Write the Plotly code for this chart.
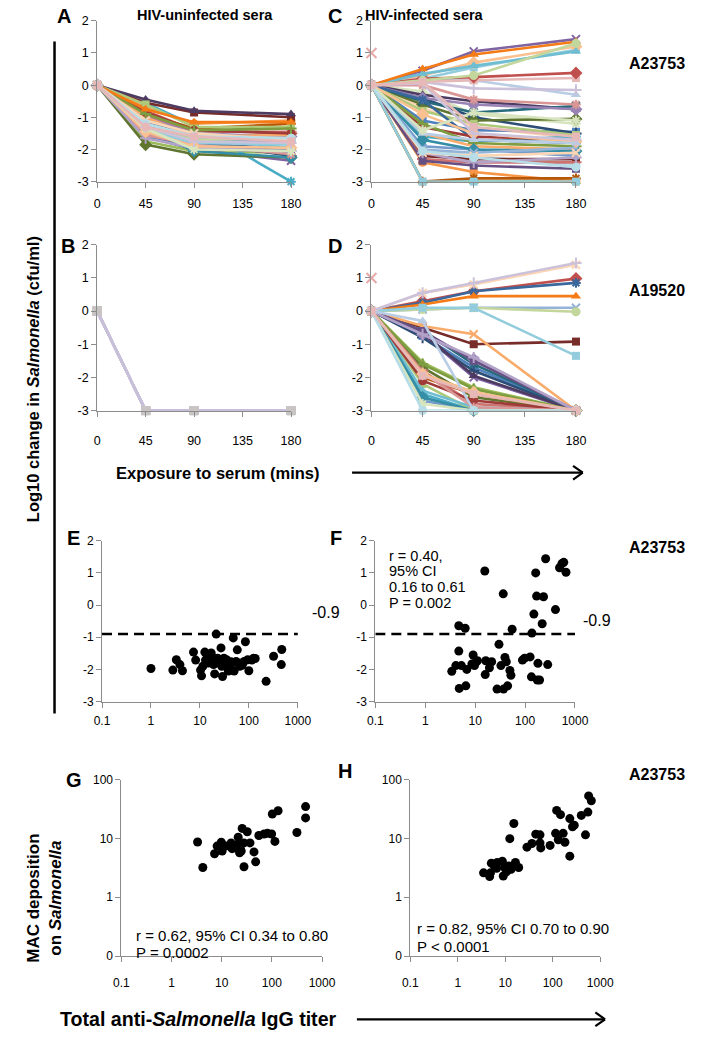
import plotly.graph_objects as go

W, H = 715, 1049
FONT = "Liberation Sans"

# ------------------------------------------------------------------ data
TIMES = [0, 45, 90, 180]
TIME_TICKS = [0, 45, 90, 135, 180]
LOG_CHANGE_TICKS = [2, 1, 0, -1, -2, -3]
TITER_TICKS = [0.1, 1, 10, 100, 1000]
TITER_LABELS = ["0.1", "1", "10", "100", "1000"]
MAC_TICKS = [0.1, 1, 10, 100]
MAC_LABELS = ["0", "1", "10", "100"]
CUTOFF = -0.9

# Panel A: HIV-uninfected sera vs A23753 (log10 change at 45, 90, 180 min; 0 at t=0)
A_T45 = [-1.6, -0.8, -1.75, -1.45, -0.55, -0.7, -1.3, -0.55, -1.85, -0.45, -1.15, -0.9,
         -1.3, -0.95, -0.6, -1.0, -1.25, -1.0, -1.2, -0.85, -0.9, -1.5, -1.4, -0.75,
         -1.1, -1.55, -1.35, -1.65, -1.4, -1.45, -1.2, -1.1, -1.35, -1.2, -1.3, -1.3]
A_T90 = [-2.0, -1.4, -2.05, -2.0, -1.25, -1.2, -1.75, -0.85, -2.15, -0.8, -1.55, -1.35,
         -1.7, -1.45, -1.3, -1.5, -1.65, -1.6, -1.8, -1.4, -1.4, -1.95, -2.05, -1.15,
         -1.5, -1.85, -1.7, -1.95, -1.8, -1.9, -1.6, -1.5, -2.0, -1.6, -1.75, -1.6]
A_T180 = [-2.0, -1.5, -2.1, -2.35, -3.0, -1.1, -2.2, -1.0, -2.25, -0.9, -1.8, -1.2,
          -1.75, -1.45, -1.3, -1.6, -1.95, -1.55, -2.0, -1.5, -1.35, -2.1, -2.25, -1.15,
          -1.7, -2.15, -1.65, -2.05, -1.85, -1.95, -1.65, -1.7, -2.05, -1.65, -1.8, -1.75]

# Panel B: HIV-uninfected sera vs A19520 (all killed by 45 min)
B_T45 = [-3.0, -3.0, -3.0, -3.0, -3.0, -3.0, -3.0, -3.0, -3.0, -3.0, -3.0, -3.0]
B_T90 = [-3.0, -3.0, -3.0, -3.0, -3.0, -3.0, -3.0, -3.0, -3.0, -3.0, -3.0, -3.0]
B_T180 = [-3.0, -3.0, -3.0, -3.0, -3.0, -3.0, -3.0, -3.0, -3.0, -3.0, -3.0, -3.0]

# Panel C: HIV-infected sera vs A23753
C_T45 = [0.2, 0.3, 0.2, -0.7, -0.2, -2.0, 0.1, 0.1, -1.1, 0.2, -3.0, 0.45,
         -1.6, -2.4, -0.4, -2.2, -0.6, -0.3, -0.5, -3.0, -1.9, -2.3, -0.8, -0.4,
         0.35, -1.5, -0.45, -1.3, -1.2, -2.35, -1.7, 0.5, -2.0, 0.0, 0.15, -2.1,
         -3.0, -0.9, -1.5, -2.1, -1.4, -2.05, 0.05, 0.1]
C_T90 = [0.55, 0.7, 0.15, -1.3, -0.9, -2.2, -0.1, 0.15, -1.4, 0.25, -3.0, 1.05,
         -1.75, -2.7, -1.0, -2.3, -1.1, -0.5, -0.85, -2.9, -2.0, -2.4, -1.2, -0.6,
         0.6, -1.9, -1.7, -1.6, -1.8, -2.5, -2.0, 0.95, -2.1, -0.45, 0.3, -2.4,
         -3.0, -1.5, -1.7, -2.2, -0.85, -2.25, -1.5, -1.3]
C_T180 = [1.1, 1.2, -0.3, -1.65, -1.2, -2.5, -0.15, 0.22, -1.45, 0.38, -3.0, 1.43,
          -1.6, -3.0, -1.5, -2.3, -1.05, -0.75, -0.65, -2.9, -2.2, -2.4, -1.55, -0.75,
          1.05, -2.0, -1.8, -1.7, -1.9, -2.6, -2.05, 1.35, -1.95, -0.6, 1.3, -2.25,
          -3.0, -1.75, -1.8, -2.1, -1.1, -2.55, -1.7, -1.6]

# Panel D: HIV-infected sera vs A19520
D_T45 = [-0.75, 0.3, -1.55, -0.7, -2.5, -1.9, -0.8, -0.5, -1.7, -0.65, -0.6, -2.0,
         -2.7, -1.8, -2.2, -0.7, -2.4, -0.45, 0.25, -2.1, -1.6, -0.6, -2.6, 0.2,
         0.05, -1.85, 0.05, -0.7, 0.1, -1.9, -0.3, 0.55, -2.8, -3.0, 0.55, -1.95]
D_T90 = [-1.7, 0.6, -2.3, -2.0, -3.0, -2.45, -1.8, -1.0, -2.6, -1.95, -1.6, -2.5,
         -3.0, -2.8, -3.0, -1.45, -2.9, -0.7, 0.6, -2.7, -2.35, -1.5, -3.0, 0.45,
         0.1, -2.9, 0.1, -1.4, 0.1, -2.45, -3.0, 0.8, -3.0, -3.0, 0.85, -2.5]
D_T180 = [-3.0, 0.98, -3.0, -3.0, -3.0, -3.0, -3.0, -0.92, -3.0, -3.0, -3.0, -3.0,
          -3.0, -3.0, -3.0, -3.0, -3.0, -3.0, 0.85, -3.0, -3.0, -3.0, -3.0, 0.45,
          0.1, -3.0, -0.02, -3.0, -1.35, -3.0, -3.0, 1.4, -3.0, -3.0, 1.45, -3.0]

# isolated point plotted at t=0 in C and D
EXTRA_T = [0]
EXTRA_V = [1.0]

# Panel E: uninfected sera, titer vs log10 change at 180 min (A23753)
E_TITER = [1.0, 2.8, 3.3, 3.9, 4.4, 7.4, 8.2, 10.3, 10.8, 11.5, 12.6, 13.0, 14, 15, 16,
           17, 17, 18, 19, 20, 20, 21.5, 22, 23, 24, 25, 27, 28, 29, 31, 33, 35, 38, 40,
           43, 45, 48, 50, 55, 58, 65, 73, 80, 85, 95, 100, 115, 125, 135, 225, 320, 460, 470]
E_CHANGE = [-1.97, -2.02, -1.70, -1.85, -2.04, -1.46, -1.71, -2.02, -2.20, -1.90, -1.46,
            -1.71, -1.65, -1.80, -1.75, -1.49, -3.01, -1.62, -1.85, -2.14, -1.70, -0.90,
            -1.75, -1.65, -1.80, -1.70, -1.33, -1.90, -2.22, -1.65, -1.85, -1.70, -2.05,
            -2.02, -1.76, -1.80, -1.02, -2.05, -1.75, -1.39, -1.90, -1.87, -1.75, -1.14,
            -1.70, -2.04, -1.71, -1.65, -1.66, -2.37, -1.59, -1.85, -1.38]

# Panel F: infected sera, titer vs log10 change at 180 min (A23753)
F_TITER = [3.4, 4.1, 4.7, 4.7, 4.8, 5.3, 6.3, 6.5, 6.8, 8.6, 9.1, 9.7, 10.3, 11.1, 12.7,
           13.5, 15.6, 16.3, 15.9, 19.3, 21.4, 27.8, 27.4, 30, 32.8, 36.5, 37, 39.5, 42,
           44.7, 49.6, 52, 55, 88.5, 98, 126, 134, 137, 124, 150, 163, 170, 181, 176, 195,
           234, 220, 258, 284, 406, 490, 547, 595, 660]
F_CHANGE = [-2.06, -1.88, -1.43, -0.64, -2.59, -1.88, -0.72, -2.51, -2.0, -1.83, -1.55,
            -1.88, -1.78, -1.73, -3.01, -3.01, 1.06, -1.73, -2.16, -1.95, -1.76, -3.01,
            -2.61, -1.22, -1.88, 0.35, -2.61, -1.63, -1.76, -2.51, -2.03, -2.18, -0.75,
            -1.71, -1.65, -1.61, -2.23, -0.87, -3.01, -0.28, 1.0, 0.28, -1.81, -2.33,
            -2.33, 0.26, -0.58, 1.44, -1.85, -0.14, 1.16, 1.29, 1.33, 1.02]

# Panel G: uninfected sera, titer vs MAC deposition
G_TITER = [3.3, 4.2, 7.2, 8.1, 9.8, 10.2, 11.9, 15.4, 16.1, 17.5, 18.8, 20.3, 21.3, 22.7,
           23.7, 24.5, 25.6, 27.8, 27.8, 32.3, 36.6, 44, 47.5, 55, 70, 82, 99, 102, 115,
           133, 316, 470, 470]
G_MAC = [8.7, 3.2, 5.5, 7.4, 8.6, 6.1, 7.4, 8.4, 6.7, 7.4, 6.9, 7.8, 10.5, 5.7, 6.5, 6.1,
         14.8, 8.4, 3.3, 13.0, 8.4, 5.9, 4.0, 11.2, 11.9, 12.2, 11.9, 26, 8.9, 29.5, 12.6,
         22.3, 34.7]

# Panel H: infected sera, titer vs MAC deposition
H_TITER = [3.5, 4.7, 4.9, 5.1, 5.8, 6.6, 6.8, 8.7, 9.1, 9.7, 10.6, 11.9, 13.3, 12.5, 15.2,
           16.4, 19.2, 28.7, 36.5, 44, 54, 54, 56, 88, 115, 121, 131, 146, 166, 181, 229,
           229, 261, 284, 400, 490, 550, 570, 650]
H_MAC = [2.6, 2.25, 2.6, 3.8, 3.5, 3.1, 3.9, 4.1, 2.3, 3.2, 2.7, 3.4, 3.0, 9.9, 17.9, 3.9,
         3.2, 7.1, 8.2, 11.8, 11.5, 8.4, 6.9, 7.6, 12.2, 29.9, 9.5, 25.3, 12.2, 8.6, 5.0,
         21.7, 15.8, 16.8, 24.6, 11.5, 28, 52.7, 43.6]

# ------------------------------------------------------------------ styles
PALETTE = ['#4F81BD', '#C0504D', '#9BBB59', '#8064A2', '#4BACC6', '#F79646',
           '#2C4D75', '#772C2A', '#5F7530', '#4D3B62', '#276A7C', '#B65708',
           '#729ACA', '#CD7371', '#AFC97A', '#9983B5', '#6FBDD1', '#F9AB6B',
           '#3A679C', '#9F3B38', '#7E9D40', '#664F83', '#358EA6', '#F47B15',
           '#95B3D7', '#D99694', '#C3D69B', '#B3A2C7', '#93CDDD', '#FAC090',
           '#B9CDE5', '#FCD5B5', '#D7E4BD', '#B7DEE8', '#CCC1DA', '#E6B9B8']
MARKERS = ['square', 'diamond', 'triangle-up', 'x-thin-open', 'asterisk-open',
           'circle', 'cross-thin-open']
AXIS_GREY = '#8C8C8C'


def fx(x):
    return x / W


def fy(y):
    return 1 - y / H


fig = go.Figure()


def marker_for(k, col):
    sym = MARKERS[k % len(MARKERS)]
    is_open = sym.endswith('open')
    size = {'diamond': 10, 'triangle-up': 9, 'circle': 9}.get(sym, 8)
    return dict(symbol=sym, size=size, color=col,
                line=dict(width=2 if is_open else 0, color=col))


def add_time_course(n, t45, t90, t180, fixed=None):
    count = len(t45)
    for i, (a, b, c) in enumerate(zip(t45, t90, t180)):
        k = (i - count) % len(PALETTE)      # last series always gets the last style
        col = PALETTE[k]
        mk = marker_for(k, col)
        lcol = col
        if fixed:
            lcol = fixed[0]
            mk = dict(symbol='square', size=9, color=fixed[1], line=dict(width=0))
        fig.add_trace(go.Scatter(
            x=TIMES, y=[0, a, b, c], xaxis='x%d' % n, yaxis='y%d' % n,
            mode='lines+markers', line=dict(color=lcol, width=2.6),
            marker=mk, cliponaxis=False, showlegend=False, hoverinfo='skip'))


def add_extra(n):
    fig.add_trace(go.Scatter(
        x=EXTRA_T, y=EXTRA_V, xaxis='x%d' % n, yaxis='y%d' % n, mode='markers',
        marker=dict(symbol='x-thin-open', size=10, color='#E6A8A6',
                    line=dict(width=2, color='#E6A8A6')),
        cliponaxis=False, showlegend=False, hoverinfo='skip'))


def add_scatter(n, xs, ys):
    fig.add_trace(go.Scatter(
        x=xs, y=ys, xaxis='x%d' % n, yaxis='y%d' % n, mode='markers',
        marker=dict(symbol='circle', size=9, color='black'),
        cliponaxis=False, showlegend=False, hoverinfo='skip'))


def add_cutoff(n):
    fig.add_trace(go.Scatter(
        x=[TITER_TICKS[0], TITER_TICKS[-1] * 1.1], y=[CUTOFF, CUTOFF],
        xaxis='x%d' % n, yaxis='y%d' % n, mode='lines',
        line=dict(color='black', width=2.6, dash='10px,6px'),
        cliponaxis=False, showlegend=False, hoverinfo='skip'))


add_time_course(1, A_T45, A_T90, A_T180)
add_time_course(2, C_T45, C_T90, C_T180)
add_extra(2)
add_time_course(3, B_T45, B_T90, B_T180, fixed=('#C8BFD9', '#C9C4C4'))
add_time_course(4, D_T45, D_T90, D_T180)
add_extra(4)
add_cutoff(5)
add_scatter(5, E_TITER, E_CHANGE)
add_cutoff(6)
add_scatter(6, F_TITER, F_CHANGE)
add_scatter(7, G_TITER, G_MAC)
add_scatter(8, H_TITER, H_MAC)

# panel boxes in pixels: n -> (x_left, x_right, y_top, y_bottom)
BOXES = {
    1: (92, 292, 14, 177),
    2: (375, 586, 14, 177),
    3: (92, 292, 241, 409),
    4: (375, 586, 241, 409),
    5: (97, 299, 541, 704),
    6: (379, 585, 541, 704),
    7: (117, 324, 783, 962),
    8: (415, 611, 783, 962),
}

tickfont = dict(family=FONT, size=12.5, color='black')
common = dict(showline=True, linecolor=AXIS_GREY, linewidth=1, ticks='outside',
              ticklen=5, tickcolor=AXIS_GREY, tickwidth=1, showgrid=False,
              zeroline=False, tickfont=tickfont, fixedrange=True)

layout_axes = {}
for n, (x0, x1, yt, yb) in BOXES.items():
    xa = dict(common, domain=[fx(x0), fx(x1)], anchor='y%d' % n)
    ya = dict(common, domain=[fy(yb), fy(yt)], anchor='x%d' % n)
    if n <= 4:
        xa.update(range=[0, 180], tickvals=TIME_TICKS, ticktext=[str(t) for t in TIME_TICKS],
                  ticklabelstandoff=5 if n <= 2 else 13)
        ya.update(range=[-3, 2], tickvals=LOG_CHANGE_TICKS,
                  ticktext=[str(t) for t in LOG_CHANGE_TICKS])
    else:
        small = dict(family=FONT, size=12, color='black')
        xa.update(type='log', range=[-1, 3], tickvals=TITER_TICKS, ticktext=TITER_LABELS,
                  tickfont=small, ticklabelstandoff=3 if n <= 6 else 10)
        if n <= 6:
            ya.update(range=[-3, 2], tickvals=LOG_CHANGE_TICKS,
                      ticktext=[str(t) for t in LOG_CHANGE_TICKS], tickfont=small)
        else:
            ya.update(type='log', range=[-1, 2], tickvals=MAC_TICKS, ticktext=MAC_LABELS,
                      tickfont=small)
    key = '' if n == 1 else str(n)
    layout_axes['xaxis' + key] = xa
    layout_axes['yaxis' + key] = ya


def text(t, x, y, size, bold=False, xanchor='center', angle=0):
    return dict(text=('<b>%s</b>' % t) if bold else t, x=fx(x), y=fy(y),
                xref='paper', yref='paper', xanchor=xanchor, yanchor='middle',
                showarrow=False, textangle=angle,
                font=dict(family=FONT, size=size, color='black'))


annotations = [
    text('A', 58, 9, 20, True), text('B', 62, 242, 20, True),
    text('C', 337, 9, 20, True), text('D', 337, 242, 20, True),
    text('E', 68, 538, 20, True), text('F', 338, 538, 20, True),
    text('G', 68, 783, 20, True), text('H', 348, 774, 20, True),
    text('HIV-uninfected sera', 203, 8, 14.5, True),
    text('HIV-infected sera', 430, 8, 14.5, True),
    text('A23753', 670, 57, 16, True), text('A19520', 670, 287, 16, True),
    text('A23753', 670, 548, 16, True), text('A23753', 670, 778, 16, True),
    text('Exposure to serum (mins)', 217, 472, 16.5, True),
    text('Total anti-<i>Salmonella</i> IgG titer', 197, 1026, 19.6, True),
    text('Log10 change in <i>Salmonella</i> (cfu/ml)', 26, 377, 16.5, True, angle=-90),
    text('MAC deposition<br>on <i>Salmonella</i>', 38, 903, 17, True, angle=-90),
    text('-0.9', 328, 614, 16), text('-0.9', 608, 622, 16),
    text('r = 0.40,', 391, 556, 14.5, xanchor='left'),
    text('95% CI', 391, 572, 14.5, xanchor='left'),
    text('0.16 to 0.61', 391, 588, 14.5, xanchor='left'),
    text('P = 0.002', 391, 604, 14.5, xanchor='left'),
    text('r = 0.62, 95% CI 0.34 to 0.80', 130, 941, 15, xanchor='left'),
    text('P = 0.0002', 130, 958, 15, xanchor='left'),
    text('r = 0.82, 95% CI 0.70 to 0.90', 420, 934, 15, xanchor='left'),
    text('P < 0.0001', 420, 952, 15, xanchor='left'),
]


def pline(x0, y0, x1, y1, w=2.2):
    return dict(type='line', xref='paper', yref='paper', x0=fx(x0), y0=fy(y0),
                x1=fx(x1), y1=fy(y1), line=dict(color='black', width=w))


shapes = [
    pline(48, 35, 48, 716, 2.5),
    pline(355, 472, 593, 472), pline(583, 465, 593, 472), pline(583, 479, 593, 472),
    pline(360, 1026, 616, 1026), pline(606, 1019, 616, 1026), pline(606, 1033, 616, 1026),
]

fig.update_layout(width=W, height=H, margin=dict(l=0, r=0, t=0, b=0),
                  paper_bgcolor='white', plot_bgcolor='white', showlegend=False,
                  font=dict(family=FONT), annotations=annotations, shapes=shapes,
                  **layout_axes)

# remove the browser's default page margin so the figure sits at the window origin
PAGE_FIX = ("document.body.style.margin='0px';document.body.style.padding='0px';"
            "document.documentElement.style.overflow='hidden';")

fig.write_html("out.html", post_script=PAGE_FIX, config={'displayModeBar': False})
